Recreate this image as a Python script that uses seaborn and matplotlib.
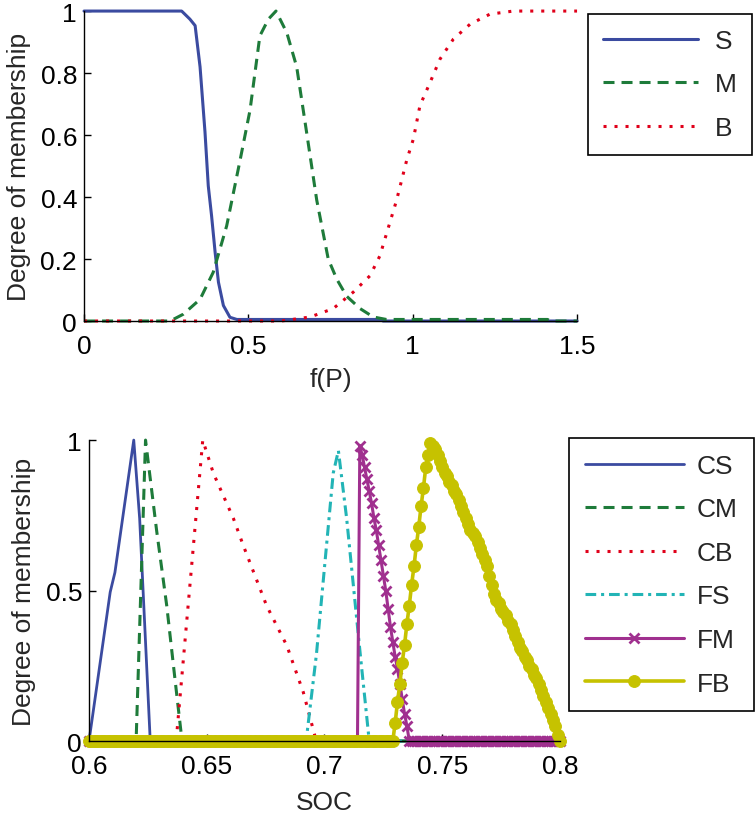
import numpy as np
import matplotlib
matplotlib.use("Agg")
import matplotlib.pyplot as plt
import seaborn as sns
from matplotlib.ticker import FuncFormatter

sns.set_style("ticks")
plt.rcParams['font.family'] = ['Liberation Sans', 'DejaVu Sans']
plt.rcParams['axes.unicode_minus'] = False

# ---------------- data: top panel, membership of f(P) ----------------
s_x = [0, 0.297, 0.322, 0.338, 0.353, 0.368, 0.378, 0.388, 0.399, 0.409, 0.424, 0.444, 0.465, 0.90, 0.91, 1.5]
s_y = [1, 1, 0.974, 0.953, 0.82, 0.61, 0.436, 0.34, 0.22, 0.125, 0.05, 0.012, 0.005, 0.005, 0, 0]

m_x = [0, 0.262, 0.302, 0.353, 0.393, 0.434, 0.475, 0.505, 0.535, 0.561, 0.584, 0.617, 0.647,
       0.677, 0.708, 0.743, 0.769, 0.799, 0.84, 0.88, 0.92, 1.41, 1.42, 1.5]
m_y = [0, 0, 0.022, 0.07, 0.157, 0.307, 0.52, 0.68, 0.92, 0.974, 1.0, 0.93, 0.82,
       0.61, 0.39, 0.2, 0.135, 0.08, 0.04, 0.013, 0.005, 0.005, 0, 0]

b_x = [0, 0.6, 0.688, 0.758, 0.819, 0.87, 0.90, 0.951, 0.982, 1.002, 1.022, 1.053, 1.083,
       1.124, 1.175, 1.235, 1.306, 1.5]
b_y = [0, 0, 0.013, 0.04, 0.093, 0.146, 0.21, 0.39, 0.52, 0.587, 0.695, 0.77, 0.845,
       0.91, 0.958, 0.99, 1.0, 1.0]

# ---------------- data: bottom panel, membership of SOC ----------------
cs_x = [0.600, 0.609, 0.611, 0.619, 0.6215, 0.626, 0.800]
cs_y = [0, 0.495, 0.56, 1.0, 0.74, 0, 0]

cm_x = [0.600, 0.620, 0.624, 0.6287, 0.633, 0.6365, 0.6395, 0.800]
cm_y = [0, 0, 1.0, 0.70, 0.45, 0.206, 0, 0]

cb_x = [0.600, 0.637, 0.6483, 0.6528, 0.6613, 0.6655, 0.6754, 0.684, 0.691, 0.6965, 0.800]
cb_y = [0, 0, 1.0, 0.89, 0.74, 0.65, 0.45, 0.317, 0.162, 0, 0]

fs_x = [0.600, 0.6922, 0.6966, 0.7037, 0.7059, 0.7094, 0.7151, 0.719, 0.800]
fs_y = [0, 0, 0.29, 0.89, 0.965, 0.74, 0.295, 0, 0]

# FM and FB are sampled on the SOC grid 0.600:0.001:0.800
soc_grid = np.round(np.linspace(0.600, 0.800, 201), 3)

fm_y = ([0.0] * 115 +
        [0.98, 0.95, 0.91, 0.87, 0.83, 0.79, 0.74, 0.70, 0.65, 0.60, 0.55,
         0.50, 0.44, 0.38, 0.33, 0.28, 0.24, 0.19, 0.14, 0.09, 0.05, 0.0] +
        [0.0] * 64)

fb_y = ([0.0] * 130 +
        [0.06, 0.13, 0.19, 0.26, 0.32, 0.39, 0.45, 0.52, 0.58, 0.65, 0.71, 0.78, 0.84, 0.91, 0.95, 0.99] +
        [0.98, 0.97, 0.95, 0.93, 0.91, 0.89, 0.88, 0.86, 0.85, 0.83,
         0.82, 0.80, 0.78, 0.76, 0.74, 0.72, 0.70, 0.69, 0.68, 0.66,
         0.64, 0.62, 0.60, 0.58, 0.55, 0.52, 0.49, 0.47, 0.46, 0.44,
         0.43, 0.42, 0.40, 0.39, 0.37, 0.35, 0.33, 0.31, 0.30, 0.28,
         0.27, 0.25, 0.24, 0.22, 0.21, 0.19, 0.17, 0.15, 0.13, 0.11,
         0.09, 0.07, 0.05, 0.02, 0.00])

c_blue = '#3b4ba0'
c_green = '#1e7b3a'
c_red = '#e0001a'
c_cyan = '#22b4b6'
c_mag = '#a0308f'
c_yel = '#c6c200'

FS = 19
fig = plt.figure(figsize=(7.55, 8.2), dpi=100)
ax1 = fig.add_axes([0.1113, 0.6073, 0.653, 0.378])
ax2 = fig.add_axes([0.1179, 0.0951, 0.6238, 0.367])

fmt = FuncFormatter(lambda v, p: f'{v:g}')

# ==================== top panel ====================
sns.lineplot(x=s_x, y=s_y, ax=ax1, color=c_blue, lw=2.2, label='S',
             estimator=None, sort=False, clip_on=False)
sns.lineplot(x=m_x, y=m_y, ax=ax1, color=c_green, lw=2.2, label='M',
             estimator=None, sort=False, clip_on=False, dashes=False, linestyle=(0, (3.6, 2.3)))
sns.lineplot(x=b_x, y=b_y, ax=ax1, color=c_red, lw=2.2, label='B',
             estimator=None, sort=False, clip_on=False, dashes=False, linestyle=(0, (1, 2.6)))
ax1.set_xlim(0, 1.5)
ax1.set_ylim(0, 1)
ax1.set_xticks([0, 0.5, 1, 1.5])
ax1.set_yticks([0, 0.2, 0.4, 0.6, 0.8, 1])
ax1.set_xlabel('f(P)', fontsize=FS, labelpad=7)
ax1.set_ylabel('Degree of membership', fontsize=FS, labelpad=7)
ax1.legend(loc='upper left', bbox_to_anchor=(0.7788, 0.9817), bbox_transform=fig.transFigure,
           borderaxespad=0, fontsize=FS, handlelength=3.6, handletextpad=0.65,
           labelspacing=0.74, borderpad=0.56, fancybox=False, framealpha=1,
           edgecolor='black')

# ==================== bottom panel ====================
sns.lineplot(x=cs_x, y=cs_y, ax=ax2, color=c_blue, lw=2, label='CS',
             estimator=None, sort=False, clip_on=False)
sns.lineplot(x=cm_x, y=cm_y, ax=ax2, color=c_green, lw=2.2, label='CM',
             estimator=None, sort=False, clip_on=False, dashes=False, linestyle=(0, (3.6, 2.3)))
sns.lineplot(x=cb_x, y=cb_y, ax=ax2, color=c_red, lw=2.2, label='CB',
             estimator=None, sort=False, clip_on=False, dashes=False, linestyle=(0, (1, 2.6)))
sns.lineplot(x=fs_x, y=fs_y, ax=ax2, color=c_cyan, lw=2.2, label='FS',
             estimator=None, sort=False, clip_on=False, dashes=False,
             linestyle=(0, (3.5, 1.6, 1, 1.6)))
sns.lineplot(x=soc_grid, y=fm_y, ax=ax2, color=c_mag, lw=2.2, label='FM',
             estimator=None, sort=False, clip_on=False, marker='x', markersize=7,
             markeredgewidth=2, markeredgecolor=c_mag)
sns.lineplot(x=soc_grid, y=fb_y, ax=ax2, color=c_yel, lw=2.6, label='FB',
             estimator=None, sort=False, clip_on=False, marker='o', markersize=8.5,
             markeredgecolor=c_yel, markerfacecolor=c_yel)
ax2.set_xlim(0.6, 0.8)
ax2.set_ylim(0, 1)
ax2.set_xticks([0.6, 0.65, 0.7, 0.75, 0.8])
ax2.set_yticks([0, 0.5, 1])
ax2.set_xlabel('SOC', fontsize=FS, labelpad=9)
ax2.set_ylabel('Degree of membership', fontsize=FS, labelpad=7)
ax2.legend(loc='upper left', bbox_to_anchor=(0.7536, 0.4646), bbox_transform=fig.transFigure,
           borderaxespad=0, fontsize=FS, handlelength=3.75, handletextpad=0.5,
           labelspacing=0.74, borderpad=0.6, fancybox=False, framealpha=1,
           edgecolor='black')

for ax in (ax1, ax2):
    sns.despine(ax=ax)
    ax.xaxis.set_major_formatter(fmt)
    ax.yaxis.set_major_formatter(fmt)
    ax.tick_params(direction='in', length=5, width=1, labelsize=FS, colors='black')
    ax.tick_params(axis='x', pad=9)
    ax.tick_params(axis='y', pad=5)
    for sp in ('left', 'bottom'):
        ax.spines[sp].set_color('black')
        ax.spines[sp].set_linewidth(1)
    ax.get_legend().get_frame().set_linewidth(1.2)

# the bottom legend box ends just below the last row in the reference
fig.canvas.draw()
frame = ax2.get_legend().get_frame()
frame.set_height(frame.get_height() - 16)
frame.set_y(frame.get_y() + 16)

fig.savefig('out.png', dpi=100)
